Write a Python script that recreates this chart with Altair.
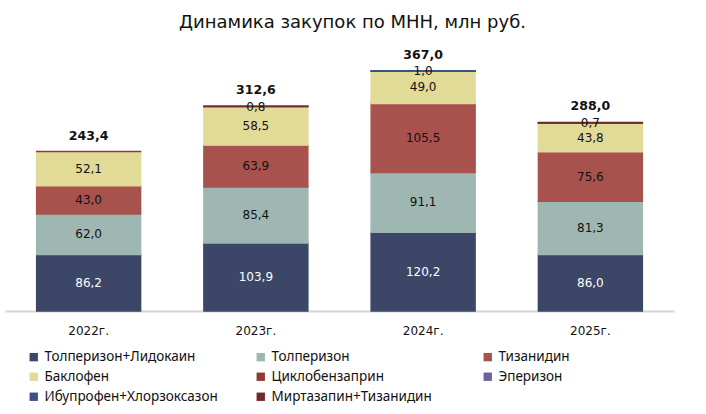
import altair as alt
import pandas as pd

# Purchase volumes by INN, mln rub., stacked per year
years = ["2022г.", "2023г.", "2024г.", "2025г."]
series = [
    "Толперизон+Лидокаин",
    "Толперизон",
    "Тизанидин",
    "Баклофен",
    "Циклобензаприн",
    "Эперизон",
    "Ибупрофен+Хлорзоксазон",
    "Миртазапин+Тизанидин",
]
colors = ["#3c4767", "#9fb7b2", "#a8524e", "#e2da97", "#8f3b37", "#6b6399", "#3b5282", "#6e2b2b"]

tolperizon_lidokain = [86.2, 103.9, 120.2, 86.0]
tolperizon = [62.0, 85.4, 91.1, 81.3]
tizanidin = [43.0, 63.9, 105.5, 75.6]
baklofen = [52.1, 58.5, 49.0, 43.8]
ciklobenzaprin = [0.1, 0.8, 0.2, 0.0]
eperizon = [0.0, 0.0, 0.0, 0.0]
ibuprofen_hlorzoksazon = [0.0, 0.0, 1.0, 0.7]
mirtazapin_tizanidin = [0.0, 0.1, 0.0, 0.6]

values = [
    tolperizon_lidokain, tolperizon, tizanidin, baklofen,
    ciklobenzaprin, eperizon, ibuprofen_hlorzoksazon, mirtazapin_tizanidin,
]

rows = []
for si, (name, vals) in enumerate(zip(series, values)):
    for yr, v in zip(years, vals):
        rows.append({"year": yr, "series": name, "ord": si, "value": v})
df = pd.DataFrame(rows)

FONT = "DejaVu Sans"

x = alt.X(
    "year:N",
    sort=years,
    title=None,
    scale=alt.Scale(paddingInner=0.378, paddingOuter=0.189),
    axis=alt.Axis(
        ticks=False, labelAngle=0, labelFontSize=12, labelFont=FONT,
        labelColor="#111111", labelPadding=14, domainColor="#d4d4d4", domainWidth=2,
    ),
)
yscale = alt.Scale(domain=[0, 400])
color_scale = alt.Scale(domain=series, range=colors)

base = alt.Chart(df).transform_filter("datum.value > 0").transform_stack(
    stack="value", groupby=["year"], sort=[alt.SortField("ord")], as_=["v0", "v1"]
).transform_calculate(
    mid="(datum.v0 + datum.v1) / 2",
    label="replace(format(datum.value, '.1f'), '.', ',')",
)

bars = base.mark_bar(strokeWidth=1.4).encode(
    x=x,
    y=alt.Y("v0:Q", scale=yscale, axis=None),
    y2="v1:Q",
    stroke=alt.Stroke("series:N", scale=color_scale, legend=None),
    color=alt.Color(
        "series:N",
        sort=series,
        scale=color_scale,
        legend=alt.Legend(
            title=None, orient="none", legendX=22, legendY=301, columns=3,
            gridAlign="all", columnPadding=36, rowPadding=5, symbolType="square",
            symbolSize=70, symbolStrokeWidth=0, labelFont="Noto Sans", labelFontSize=13.5,
            labelColor="#111111", labelLimit=300, direction="horizontal",
        ),
    ),
)

seg_labels = base.transform_filter("datum.value >= 0.7").mark_text(
    font=FONT, fontSize=12
).encode(
    x=x,
    y=alt.Y("mid:Q", scale=yscale),
    text="label:N",
    color=alt.condition(
        alt.datum.series == series[0], alt.value("#ffffff"), alt.value("#111111")
    ),
)

totals = alt.Chart(df).transform_aggregate(
    total="sum(value)", groupby=["year"]
).transform_calculate(
    label="replace(format(datum.total, '.1f'), '.', ',')"
).mark_text(font=FONT, fontSize=12.5, fontWeight="bold", dy=-16, color="#111111").encode(
    x=x,
    y=alt.Y("total:Q", scale=yscale),
    text="label:N",
)

chart = alt.layer(bars, seg_labels, totals).properties(
    width=669,
    height=262,
    title=alt.TitleParams(
        "Динамика закупок по МНН, млн руб.", font="DejaVu Sans", fontSize=18,
        fontWeight="normal", color="#111111", anchor="middle", dx=13, offset=17,
    ),
    autosize=alt.AutoSizeParams(type="none"),
    padding={"left": 5, "top": 49, "right": 32, "bottom": 103},
).configure(background="white").configure_view(stroke=None)

chart.save("out.html", embed_options={"renderer": "svg", "actions": False})
